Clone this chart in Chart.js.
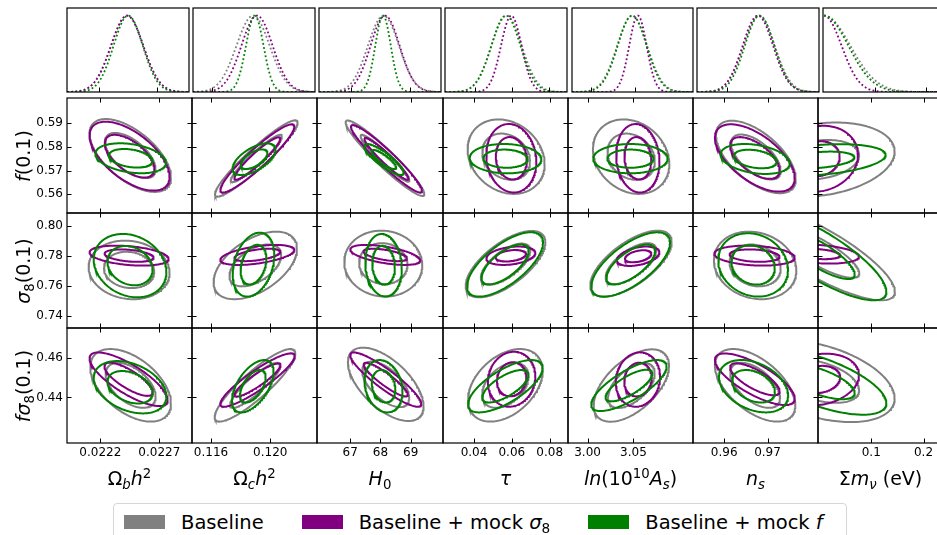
<!DOCTYPE html>
<html>
<head>
<meta charset="utf-8">
<script src="https://cdn.jsdelivr.net/npm/chart.js@4.4.1/dist/chart.umd.min.js"></script>
<style>
  html, body { margin: 0; padding: 0; background: #fff; }
  #fig { position: relative; width: 937px; height: 535px; overflow: hidden; font-family: 'DejaVu Sans', sans-serif; color: #000; }
  #fig canvas { position: absolute; }
  .xlab, .ylab { position: absolute; font-size: 19px; line-height: 1; white-space: nowrap; }
  .xlab { transform: translate(-50%, -50%); }
  .ylab { transform: translate(-50%, -50%) rotate(-90deg); }
  sub, sup { font-size: 70%; line-height: 0; position: relative; }
  sub { vertical-align: baseline; top: 0.3em; }
  sup { vertical-align: baseline; top: -0.55em; }
  #legend { position: absolute; left: 113px; top: 503px; width: 734px; height: 44px; box-sizing: border-box;
            border: 1px solid #d6d6d6; border-radius: 4px; display: flex; align-items: center; padding-left: 10px;
            padding-bottom: 6px; font-size: 19.5px; background: #fff; }
  #legend .item { display: flex; align-items: center; margin-right: 38px; white-space: nowrap; }
  #legend .sw { width: 41px; height: 14px; margin-right: 16px; }
</style>
</head>
<body>
<div id="fig"><div id="legend"></div></div>
<script>
// ---- data ----
const seriesLabels = ['Baseline', 'Baseline + mock <i>σ</i><sub>8</sub>', 'Baseline + mock <i>f</i>'];
const seriesColors = ['#808080', '#800080', '#008000'];

const xTitles = [
  'Ω<sub><i>b</i></sub><i>h</i><sup>2</sup>',
  'Ω<sub><i>c</i></sub><i>h</i><sup>2</sup>',
  '<i>H</i><sub>0</sub>',
  '<i>τ</i>',
  '<i>ln</i>(10<sup>10</sup><i>A</i><sub><i>s</i></sub>)',
  '<i>n</i><sub><i>s</i></sub>',
  'Σ<i>m</i><sub><i>ν</i></sub> (eV)'
];
const yTitles = ['<i>f</i>(0.1)', '<i>σ</i><sub>8</sub>(0.1)', '<i>fσ</i><sub>8</sub>(0.1)'];

const xRanges = [[0.021918, 0.022977], [0.11472, 0.12315], [65.90, 70.07], [0.0236, 0.0897],
                 [2.9787, 3.1149], [0.95279, 0.98166], [-0.002, 0.2373]];
const xTicks = [[0.0222, 0.0227], [0.116, 0.120], [67, 68, 69], [0.04, 0.06, 0.08], [3.00, 3.05], [0.96, 0.97], [0.1, 0.2]];
const xTickLabels = [['0.0222', '0.0227'], ['0.116', '0.120'], ['67', '68', '69'], ['0.04', '0.06', '0.08'],
                     ['3.00', '3.05'], ['0.96', '0.97'], ['0.1', '0.2']];

const yRanges = [[0.5521, 0.6007], [0.7322, 0.8086], [0.417, 0.475]];
const yTicks = [[0.56, 0.57, 0.58, 0.59], [0.74, 0.76, 0.78, 0.80], [0.44, 0.46]];
const yTickLabels = [['0.56', '0.57', '0.58', '0.59'], ['0.74', '0.76', '0.78', '0.80'], ['0.44', '0.46']];

// 95% contour per panel: [x centre, x half-extent, y centre, y half-extent, correlation]
const fBase = [[0.022454, 0.000345, 0.57641, 0.0154, -0.6], [0.119055, 0.002786, 0.57515, 0.01612, 0.94],
  [68.149, 1.301, 0.57527, 0.01595, -0.95], [0.05698, 0.02037, 0.57591, 0.01574, -0.2],
  [3.0475, 0.04163, 0.57591, 0.01574, -0.2], [0.9673, 0.009216, 0.57578, 0.01532, -0.6], [0, 0.1447, 0.57464, 0.0157, 0.22]];
const fMockS8 = [[0.022448, 0.000339, 0.57612, 0.01456, -0.6], [0.119123, 0.002496, 0.57515, 0.01443, 0.93],
  [68.199, 1.175, 0.57502, 0.01426, -0.95], [0.05973, 0.01323, 0.57523, 0.01447, -0.1],
  [3.0548, 0.02359, 0.57523, 0.01447, -0.1], [0.96707, 0.009216, 0.57536, 0.01422, -0.6], [0, 0.0746, 0.57502, 0.01393, 0.12]];
const fMockF = [[0.022457, 0.000299, 0.57523, 0.00633, -0.3], [0.118907, 0.00145, 0.57485, 0.00667, 0.6],
  [68.116, 0.652, 0.57472, 0.00654, -0.85], [0.05666, 0.01894, 0.57506, 0.0062, -0.05],
  [3.0467, 0.04055, 0.57506, 0.0062, 0], [0.96714, 0.007995, 0.57493, 0.00633, -0.3], [0, 0.1275, 0.57451, 0.00667, 0.32]];

const s8Base = [[0.022444, 0.000343, 0.77078, 0.01946, -0.1], [0.118988, 0.002813, 0.77377, 0.02244, 0.5],
  [68.093, 1.291, 0.77497, 0.02191, -0.05], [0.05666, 0.02105, 0.77464, 0.02204, 0.66],
  [3.0473, 0.04435, 0.77497, 0.02191, 0.66], [0.96714, 0.009516, 0.77377, 0.02244, -0.15], [0, 0.1453, 0.7824, 0.0318, -0.82]];
const s8MockS8 = [[0.022444, 0.000335, 0.78028, 0.00664, -0.33], [0.119123, 0.002496, 0.78074, 0.00664, 0.5],
  [68.159, 1.159, 0.78074, 0.00664, -0.55], [0.05947, 0.01296, 0.78021, 0.00611, 0.3],
  [3.0551, 0.02315, 0.77988, 0.00644, 0.4], [0.967, 0.009285, 0.78028, 0.00664, -0.2], [0, 0.0765, 0.78128, 0.00631, -0.26]];
const s8MockF = [[0.022452, 0.000308, 0.77364, 0.02105, -0.2], [0.118867, 0.001403, 0.7743, 0.02125, 0.3],
  [68.103, 0.606, 0.7739, 0.02078, -0.1], [0.0564, 0.0201, 0.77444, 0.02138, 0.68],
  [3.047, 0.0429, 0.7744, 0.0214, 0.68], [0.96668, 0.008064, 0.7741, 0.02105, -0.15], [0, 0.1289, 0.78074, 0.03015, -0.81]];

const fs8Base = [[0.022457, 0.000342, 0.44609, 0.0183, -0.5], [0.118968, 0.002718, 0.44609, 0.0183, 0.88],
  [68.175, 1.252, 0.44659, 0.0185, -0.6], [0.05656, 0.01973, 0.44609, 0.0183, 0.4],
  [3.0477, 0.04109, 0.44599, 0.01824, 0.55], [0.96714, 0.009285, 0.44609, 0.0183, -0.55], [0, 0.1447, 0.44816, 0.02061, -0.42]];
const fs8MockS8 = [[0.02244, 0.000331, 0.44916, 0.01351, -0.78], [0.119136, 0.002509, 0.44876, 0.01346, 0.9],
  [68.175, 1.175, 0.44901, 0.01371, -0.9], [0.05989, 0.01254, 0.44916, 0.01386, 0.1],
  [3.0549, 0.02413, 0.44901, 0.01371, 0.1], [0.96707, 0.009216, 0.44916, 0.013, -0.75], [0, 0.0765, 0.44901, 0.01305, 0.17]];
const fs8MockF = [[0.022452, 0.000308, 0.44513, 0.0132, -0.35], [0.118819, 0.001403, 0.44564, 0.0132, 0.55],
  [68.103, 0.629, 0.44564, 0.0132, -0.2], [0.05656, 0.01973, 0.44564, 0.0132, 0.7],
  [3.0451, 0.04109, 0.44599, 0.01285, 0.75], [0.96677, 0.007995, 0.44564, 0.0132, -0.35], [0, 0.1289, 0.4479, 0.01663, -0.65]];

// size of the 68% contour relative to the 95% one, per column
const innerScale = [0.62, 0.62, 0.62, 0.62, 0.62, 0.62, 0.53];

// 1D marginals: peak position and width per column
const peakBase = [0.02244, 0.118873, 68.103, 0.057, 3.0464, 0.9675, 0];
const widthBase = [0.00014, 0.001147, 0.53, 0.0082, 0.01685, 0.00369, 0.0516];
const peakMockS8 = [0.02244, 0.119143, 68.159, 0.0595, 3.0529, 0.9672, 0];
const widthMockS8 = [0.00014, 0.001079, 0.497, 0.00555, 0.0098, 0.0036, 0.0344];
const peakMockF = [0.022449, 0.118988, 68.089, 0.0566, 3.0464, 0.9676, 0];
const widthMockF = [0.000127, 0.000607, 0.265, 0.0079, 0.0163, 0.0035, 0.0478];
const priorMin = [null, null, null, null, null, null, 0];

// ---- layout ----
const colEdges = [67, 192, 317, 443, 568, 693, 818, 943];
const rowEdges = [98, 213, 328, 443];
const topBoxes = [[67, 189], [193, 315], [319, 441], [445, 567], [572, 693], [697, 819], [823, 945]];
const topY = [8, 92];

const fig = document.getElementById('fig');
Chart.defaults.font.family = "'DejaVu Sans', sans-serif";
Chart.defaults.color = '#000';

const framePlugin = {
  id: 'frame',
  afterDatasetsDraw(chart, args, o) {
    const { ctx, chartArea: a, scales: { x, y } } = chart;
    const len = 4.5;
    ctx.save();
    ctx.strokeStyle = '#000';
    ctx.lineWidth = 1.2;
    ctx.strokeRect(a.left, a.top, a.right - a.left, a.bottom - a.top);
    ctx.lineWidth = 1;
    ctx.beginPath();
    (o.xt || []).forEach(v => {
      const px = Math.round(x.getPixelForValue(v)) + 0.5;
      ctx.moveTo(px, a.bottom); ctx.lineTo(px, a.bottom - len);
      if (o.both) { ctx.moveTo(px, a.top); ctx.lineTo(px, a.top + len); }
    });
    (o.yt || []).forEach(v => {
      const py = Math.round(y.getPixelForValue(v)) + 0.5;
      ctx.moveTo(a.left, py); ctx.lineTo(a.left + len, py);
      if (o.both) { ctx.moveTo(a.right, py); ctx.lineTo(a.right - len, py); }
    });
    ctx.stroke();
    ctx.restore();
  }
};

function panel(o) {
  const cv = document.createElement('canvas');
  const W = o.right - o.left + o.pl + o.pr, H = o.bottom - o.top + o.pt + o.pb;
  cv.width = W; cv.height = H;
  cv.style.left = (o.left - o.pl) + 'px';
  cv.style.top = (o.top - o.pt) + 'px';
  cv.style.width = W + 'px'; cv.style.height = H + 'px';
  fig.insertBefore(cv, fig.firstChild);
  new Chart(cv, {
    type: 'scatter',
    data: { datasets: o.datasets },
    options: {
      responsive: false, animation: false, devicePixelRatio: 1, events: [],
      layout: { padding: { left: o.ylab ? 0 : o.pl, right: o.pr, top: o.pt, bottom: o.xlab ? 0 : o.pb } },
      plugins: { legend: { display: false }, tooltip: { enabled: false }, frame: { xt: o.xt, yt: o.yt, both: o.both } },
      scales: {
        x: {
          type: 'linear', min: o.xr[0], max: o.xr[1], display: !!o.xlab,
          afterBuildTicks: s => { s.ticks = o.xt.map(v => ({ value: v })); },
          afterFit: s => { if (o.xlab) s.height = o.pb; },
          grid: { display: false, drawTicks: false }, border: { display: false },
          ticks: { padding: 3, autoSkip: false, maxRotation: 0, font: { size: 12 }, color: '#000',
                   callback: (v, i) => (o.xlab || [])[i] }
        },
        y: {
          type: 'linear', min: o.yr[0], max: o.yr[1], display: !!o.ylab,
          afterBuildTicks: s => { s.ticks = (o.yt || []).map(v => ({ value: v })); },
          afterFit: s => { if (o.ylab) s.width = o.pl; },
          grid: { display: false, drawTicks: false }, border: { display: false },
          ticks: { padding: 4, autoSkip: false, font: { size: 12 }, color: '#000',
                   callback: (v, i) => (o.ylab || [])[i] }
        }
      }
    },
    plugins: [framePlugin]
  });
}

function ellipse(p, k) {
  const [cx, a, cy, b, r] = p;
  const q = Math.sqrt(1 - r * r);
  const pts = [];
  for (let i = 0; i <= 180; i++) {
    const t = i / 180 * 2 * Math.PI;
    pts.push({ x: cx + k * a * Math.cos(t), y: cy + k * b * (r * Math.cos(t) + q * Math.sin(t)) });
  }
  return pts;
}

function marginal(m, s, c) {
  const [lo, hi] = xRanges[c];
  const start = priorMin[c] === null ? lo : priorMin[c];
  const pts = [];
  for (let i = 0; i <= 200; i++) {
    const x = start + (hi - start) * i / 200;
    pts.push({ x, y: Math.exp(-0.5 * ((x - m) / s) ** 2) });
  }
  return pts;
}

// ---- 1D row ----
const peaks = [peakBase, peakMockS8, peakMockF];
const widths = [widthBase, widthMockS8, widthMockF];
for (let c = 0; c < 7; c++) {
  const datasets = [0, 1, 2].map(s => ({
    data: marginal(peaks[s][c], widths[s][c], c), showLine: true, pointRadius: 0,
    borderColor: seriesColors[s], borderWidth: 1.8, borderDash: [1.8, 2.4], tension: 0, order: 2 - s
  }));
  panel({ left: topBoxes[c][0], right: topBoxes[c][1], top: topY[0], bottom: topY[1], pl: 2, pr: 2, pt: 2, pb: 2,
          xr: xRanges[c], yr: [0, 1.1], xt: xTicks[c], yt: [], both: false, datasets });
}

// ---- 2D rows ----
const rowSets = [[fBase, fMockS8, fMockF], [s8Base, s8MockS8, s8MockF], [fs8Base, fs8MockS8, fs8MockF]];
for (let r = 0; r < 3; r++) {
  for (let c = 0; c < 7; c++) {
    const datasets = [];
    [0, 1, 2].forEach(s => {
      const p = rowSets[r][s][c];
      [1, innerScale[c]].forEach(k => datasets.push({
        data: ellipse(p, k), showLine: true, pointRadius: 0, borderColor: seriesColors[s],
        borderWidth: 2, tension: 0, order: 2 - s
      }));
    });
    const left = c === 0, bottom = r === 2;
    panel({ left: colEdges[c], right: colEdges[c + 1], top: rowEdges[r], bottom: rowEdges[r + 1],
            pl: left ? 67 : 2, pr: 2, pt: 14, pb: bottom ? 30 : 14,
            xr: xRanges[c], yr: yRanges[r], xt: xTicks[c], yt: yTicks[r], both: true,
            xlab: bottom ? xTickLabels[c] : null, ylab: left ? yTickLabels[r] : null, datasets });
  }
}

// ---- titles ----
xTitles.forEach((t, c) => {
  const d = document.createElement('div');
  d.className = 'xlab'; d.innerHTML = t;
  d.style.left = ((colEdges[c] + colEdges[c + 1]) / 2) + 'px';
  d.style.top = '478px';
  fig.appendChild(d);
});
yTitles.forEach((t, r) => {
  const d = document.createElement('div');
  d.className = 'ylab'; d.innerHTML = t;
  d.style.left = '23px';
  d.style.top = ((rowEdges[r] + rowEdges[r + 1]) / 2) + 'px';
  fig.appendChild(d);
});

// ---- legend ----
const legend = document.getElementById('legend');
seriesLabels.forEach((t, s) => {
  const it = document.createElement('div');
  it.className = 'item';
  it.innerHTML = '<span class="sw" style="background:' + seriesColors[s] + '"></span><span>' + t + '</span>';
  legend.appendChild(it);
});
</script>
</body>
</html>
